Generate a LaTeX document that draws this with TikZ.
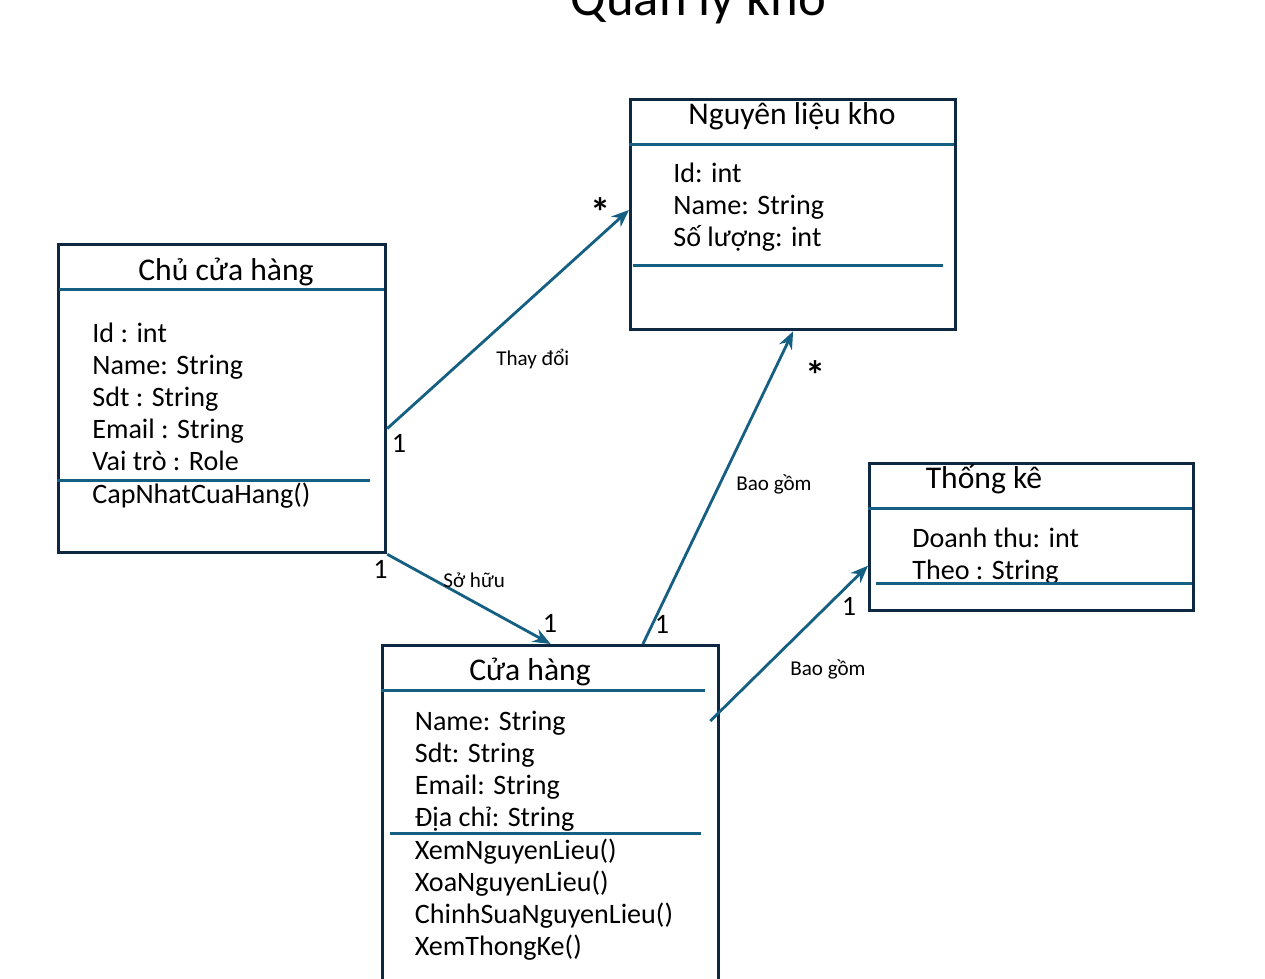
\documentclass[tikz,border=0pt]{standalone}
\usepackage{fontspec}
\setmainfont{Carlito}
\usepackage{xcolor}
\usepackage{tikz}
\usetikzlibrary{positioning,arrows.meta,calc}
\definecolor{boxline}{HTML}{0E2841}
\definecolor{assocblue}{HTML}{156082}

\begin{document}
\begin{tikzpicture}[x=0.02cm,y=-0.02cm,
  classbox/.style={draw=boxline,line width=1.9pt,anchor=north west,inner sep=0pt},
  ctitle/.style={font=\fontsize{18}{20}\selectfont,anchor=base,inner sep=0pt},
  cbody/.style={font=\fontsize{16}{18.2}\selectfont,align=left,anchor=base west,inner sep=0pt},
  sepline/.style={draw=assocblue,line width=1.7pt},
  assoc/.style={draw=assocblue,line width=1.6pt,-{Stealth[length=10pt,width=8pt]}},
  assoclabel/.style={font=\fontsize{12}{14}\selectfont,anchor=base west,inner sep=0pt},
  multlabel/.style={font=\fontsize{16}{18}\selectfont,anchor=base,inner sep=0pt},
  manylabel/.style={font=\fontsize{23}{23}\bfseries,anchor=center,inner sep=0pt,yshift=-0.1cm}]
\useasboundingbox (0,0) rectangle (1265,978);
\node[font=\fontsize{30}{34}\selectfont,anchor=base,inner sep=0pt] (title) at (698.5,15) {Quản lý kho};

% class boxes
\node[classbox,minimum width=6.54cm,minimum height=6.16cm] (chu) at (57,243) {};
\node[classbox,minimum width=6.5cm,minimum height=4.6cm] (nlk) at (629,98) {};
\node[classbox,minimum width=6.48cm,minimum height=2.94cm] (tk) at (868,462) {};
\node[classbox,minimum width=6.72cm,minimum height=6.92cm] (ch) at (381,644) {};

% Chu cua hang (body nodes sit on their last line)
\node[ctitle] (chuT) at (226,280) {Chủ cửa hàng};
\draw[sepline] (59,289) -- (384,289);
\node[cbody] (chuA) at (92,470.7) {Id : int\\Name: String\\Sdt : String\\Email : String\\Vai trò : Role};
\draw[sepline] (57,480) -- (370,480);
\node[cbody] (chuM) at (92,503) {CapNhatCuaHang()};

% Nguyen lieu kho
\node[ctitle] (nlkT) at (792,124) {Nguyên liệu kho};
\draw[sepline] (629,144.5) -- (954,144.5);
\node[cbody] (nlkA) at (673,246.7) {Id: int\\Name: String\\Số lượng: int};
\draw[sepline] (633,265) -- (943,265);

% Thong ke
\node[ctitle] (tkT) at (984,488) {Thống kê};
\draw[sepline] (868,508.6) -- (1192,508.6);
\node[cbody] (tkA) at (912,579) {Doanh thu: int\\Theo : String};
\draw[sepline] (876,583.4) -- (1192,583.4);

% Cua hang
\node[ctitle] (chT) at (530,680) {Cửa hàng};
\draw[sepline] (381,690.5) -- (705,690.5);
\node[cbody] (chA) at (414.5,826) {Name: String\\Sdt: String\\Email: String\\Địa chỉ: String};
\draw[sepline] (390,833) -- (700.5,833);
\node[cbody] (chM) at (414.5,955.8) {XemNguyenLieu()\\XoaNguyenLieu()\\ChinhSuaNguyenLieu()\\XemThongKe()};

% associations
\draw[assoc] ($(chu.north east)!0.596!(chu.south east)$) -- ($(nlk.north west)!0.48!(nlk.south west)$);
\draw[assoc] (chu.south east) -- (ch.north);
\draw[assoc] ($(ch.north west)!0.772!(ch.north east)$) -- (nlk.south);
\draw[assoc] ($(ch.north east)+(-10,77)$) -- ($(tk.north west)!0.69!(tk.south west)$);

\node[assoclabel] (lThay) at (496,365) {Thay đổi};
\node[assoclabel] (lSoHuu) at (443,587) {Sở hữu};
\node[assoclabel] (lBao1) at (736,490.8) {Bao gồm};
\node[assoclabel] (lBao2) at (790,675) {Bao gồm};

\node[multlabel] (m1) at (399,452.7) {1};
\node[multlabel] (m2) at (380.5,578) {1};
\node[multlabel] (m3) at (550,632) {1};
\node[multlabel] (m4) at (662,633) {1};
\node[multlabel] (m5) at (849,615.7) {1};
\node[manylabel] (s1) at (601,207) {*};
\node[manylabel] (s2) at (816,370) {*};
\end{tikzpicture}
\end{document}
